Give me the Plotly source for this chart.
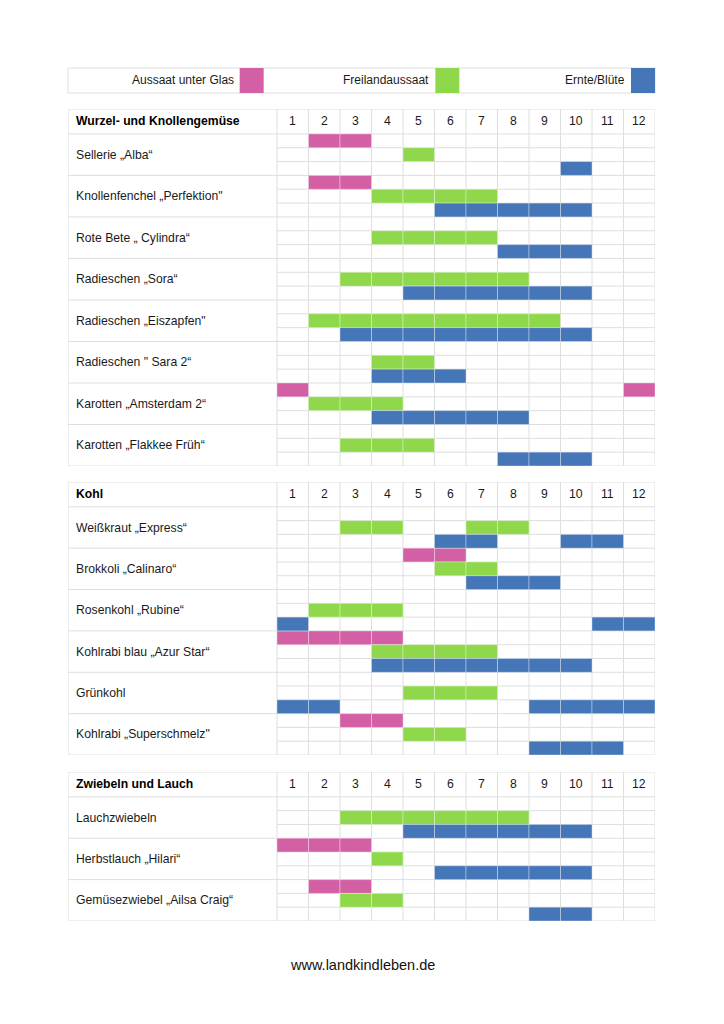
import plotly.graph_objects as go

# ---------------- data ----------------
months = ["1", "2", "3", "4", "5", "6", "7", "8", "9", "10", "11", "12"]
legend_names = ["Aussaat unter Glas", "Freilandaussaat", "Ernte/Blüte"]
colors = ["#D35FA5", "#8FD84B", "#4476B8"]

section_titles = ["Wurzel- und Knollengemüse", "Kohl", "Zwiebeln und Lauch"]

names_1 = ["Sellerie „Alba“", "Knollenfenchel „Perfektion\"", "Rote Bete „ Cylindra“",
           "Radieschen „Sora“", "Radieschen „Eiszapfen\"", "Radieschen \" Sara 2“",
           "Karotten „Amsterdam 2“", "Karotten „Flakkee Früh“"]
glas_1 = [[(2, 3)], [(2, 3)], [], [], [], [], [(1, 1), (12, 12)], []]
frei_1 = [[(5, 5)], [(4, 7)], [(4, 7)], [(3, 8)], [(2, 9)], [(4, 5)], [(2, 4)], [(3, 5)]]
ernte_1 = [[(10, 10)], [(6, 10)], [(8, 10)], [(5, 10)], [(3, 10)], [(4, 6)], [(4, 8)], [(8, 10)]]

names_2 = ["Weißkraut „Express“", "Brokkoli „Calinaro“", "Rosenkohl „Rubine“",
           "Kohlrabi blau „Azur Star“", "Grünkohl", "Kohlrabi „Superschmelz\""]
glas_2 = [[], [(5, 6)], [], [(1, 4)], [], [(3, 4)]]
frei_2 = [[(3, 4), (7, 8)], [(6, 7)], [(2, 4)], [(4, 7)], [(5, 7)], [(5, 6)]]
ernte_2 = [[(6, 7), (10, 11)], [(7, 9)], [(1, 1), (11, 12)], [(4, 10)], [(1, 2), (9, 12)], [(9, 11)]]

names_3 = ["Lauchzwiebeln", "Herbstlauch „Hilari“", "Gemüsezwiebel „Ailsa Craig“"]
glas_3 = [[], [(1, 3)], [(2, 3)]]
frei_3 = [[(3, 8)], [(4, 4)], [(3, 4)]]
ernte_3 = [[(5, 10)], [(6, 10)], [(9, 10)]]

sections = [
    (section_titles[0], names_1, [glas_1, frei_1, ernte_1]),
    (section_titles[1], names_2, [glas_2, frei_2, ernte_2]),
    (section_titles[2], names_3, [glas_3, frei_3, ernte_3]),
]

# ---------------- layout geometry ----------------
OFF = 8  # page body margin of the browser
W, H = 724 - OFF, 1024 - OFF
FONT = "Liberation Sans, Arial, Helvetica, sans-serif"
GRID = "#DEDEDE"
TXT = "#1a1a1a"
FS = 12.2


def px_x(v):
    return (v - OFF) / W


def px_y(v):
    return 1 - (v - OFF) / H


table_left_px, name_right_px, table_right_px = 68, 277, 655
col_px = (table_right_px - name_right_px) / 12.0
x_left = -(name_right_px - table_left_px) / col_px
HEADER = 1.8  # header height in sub-row units
section_px = [(109, 466), (482, 755), (772, 921)]
pad = 6 / col_px

fig = go.Figure()
shapes = []
annotations = []
layout_axes = {}

for s, (title, names, cats) in enumerate(sections):
    n = len(names)
    ax = "" if s == 0 else str(s + 1)
    xref, yref = "x" + ax, "y" + ax
    top_px, bot_px = section_px[s]
    layout_axes["xaxis" + ax] = dict(domain=[px_x(table_left_px), px_x(table_right_px)],
                                     range=[x_left, 12], visible=False, fixedrange=True,
                                     anchor="y" + ax)
    layout_axes["yaxis" + ax] = dict(domain=[px_y(bot_px), px_y(top_px)],
                                     range=[3 * n, -HEADER], visible=False, fixedrange=True,
                                     anchor="x" + ax)
    # bars: one cell per month
    for c, cat in enumerate(cats):
        ys, bases, xs = [], [], []
        for i, ranges in enumerate(cat):
            for (a, b) in ranges:
                for m in range(a, b + 1):
                    ys.append(3 * i + c + 0.5)
                    bases.append(m - 1)
                    xs.append(1)
        fig.add_trace(go.Bar(
            orientation="h", y=ys, x=xs, base=bases, width=1,
            marker=dict(color=colors[c], line=dict(color="rgba(255,255,255,0.35)", width=1)),
            xaxis=xref, yaxis=yref, showlegend=False, name=legend_names[c],
            hoverinfo="skip"))
    # grid lines
    line = dict(color=GRID, width=1)
    for yv in [-HEADER] + [3 * i for i in range(n + 1)]:
        shapes.append(dict(type="line", xref=xref, yref=yref, x0=x_left, x1=12, y0=yv, y1=yv,
                           line=line, layer="below"))
    for i in range(n):
        for k in (1, 2):
            yv = 3 * i + k
            shapes.append(dict(type="line", xref=xref, yref=yref, x0=0, x1=12, y0=yv, y1=yv,
                               line=line, layer="below"))
    for xv in [x_left] + list(range(13)):
        shapes.append(dict(type="line", xref=xref, yref=yref, x0=xv, x1=xv, y0=-HEADER, y1=3 * n,
                           line=line, layer="below"))
    # header texts
    annotations.append(dict(xref=xref, yref=yref, x=x_left + pad, y=-HEADER / 2,
                            text="<b>" + title + "</b>", showarrow=False, xanchor="left",
                            yanchor="middle", font=dict(family=FONT, size=FS, color="#000")))
    for m, lab in enumerate(months):
        annotations.append(dict(xref=xref, yref=yref, x=m + 0.5, y=-HEADER / 2, text=lab,
                                showarrow=False, xanchor="center", yanchor="middle",
                                font=dict(family=FONT, size=FS, color=TXT)))
    for i, nm in enumerate(names):
        annotations.append(dict(xref=xref, yref=yref, x=x_left + pad, y=3 * i + 1.5,
                                text=nm, showarrow=False, xanchor="left", yanchor="middle",
                                font=dict(family=FONT, size=FS, color=TXT)))

# ---------------- legend bar (top) ----------------
leg_top, leg_bot = 68, 93
shapes.append(dict(type="rect", xref="paper", yref="paper",
                   x0=px_x(table_left_px), x1=px_x(table_right_px),
                   y0=px_y(leg_bot), y1=px_y(leg_top),
                   line=dict(color=GRID, width=1), fillcolor="white", layer="below"))
seg_w = (table_right_px - table_left_px) / 3.0
sw = 24
for j, (nm, col) in enumerate(zip(legend_names, colors)):
    right = table_left_px + seg_w * (j + 1)
    shapes.append(dict(type="rect", xref="paper", yref="paper",
                       x0=px_x(right - sw), x1=px_x(right),
                       y0=px_y(leg_bot), y1=px_y(leg_top),
                       line=dict(width=0), fillcolor=col, layer="above"))
    annotations.append(dict(xref="paper", yref="paper", x=px_x(right - sw - 4),
                            y=px_y((leg_top + leg_bot) / 2), text=nm, showarrow=False,
                            xanchor="right", yanchor="middle",
                            font=dict(family=FONT, size=12, color=TXT)))

# footer
annotations.append(dict(xref="paper", yref="paper", x=px_x(362), y=px_y(965),
                        text="www.landkindleben.de", showarrow=False, xanchor="center",
                        yanchor="middle", font=dict(family=FONT, size=14.5, color="#111")))

fig.update_layout(
    width=W, height=H, margin=dict(l=0, r=0, t=0, b=0),
    paper_bgcolor="white", plot_bgcolor="white",
    shapes=shapes, annotations=annotations, barmode="overlay",
    showlegend=False, **layout_axes)

fig.write_html("out.html", config={"displayModeBar": False})
